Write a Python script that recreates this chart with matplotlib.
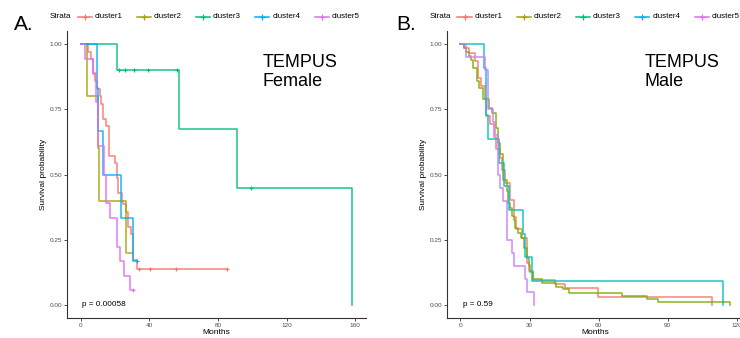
import matplotlib
matplotlib.use("Agg")
import matplotlib.pyplot as plt
from matplotlib.lines import Line2D
import numpy as np

plt.rcParams['font.family'] = ['Liberation Sans', 'DejaVu Sans']

W, H = 740, 338

# ---------------------------------------------------------------
# Data (Kaplan-Meier steps: time, survival)
# ---------------------------------------------------------------
clusters = ["cluster1", "cluster2", "cluster3", "cluster4", "cluster5"]

# Panel A - Female
a_c1_t = [0, 4.6, 6.0, 7.0, 7.5, 8.5, 9.5, 11.4, 11.8, 13.3, 14.9, 16.3, 20.1,
          21.0, 22.0, 24.0, 25.0, 26.5, 27.9, 29.2, 30.8, 32.7, 85.3]
a_c1_s = [1, 0.971, 0.943, 0.914, 0.886, 0.857, 0.829, 0.800, 0.771, 0.714,
          0.686, 0.571, 0.543, 0.486, 0.429, 0.400, 0.386, 0.357, 0.300, 0.271,
          0.171, 0.139, 0.139]
a_c1_cens = [34.2, 40.5, 55.4, 85.3]

a_c2_t = [0, 4.0, 10.0, 11.0, 26.3, 30.8]
a_c2_s = [1, 0.8, 0.6, 0.4, 0.2, 0.2]
a_c2_cens = []

a_c3_t = [0, 21.5, 57.4, 91.3, 158.4]
a_c3_s = [1, 0.9, 0.675, 0.45, 0]
a_c3_cens = [22.2, 26.0, 31.2, 39.5, 56.0, 99.5]

a_c4_t = [0, 9.5, 10.4, 13.3, 23.4, 30.4, 33.0]
a_c4_s = [1, 0.833, 0.667, 0.5, 0.333, 0.167, 0.167]
a_c4_cens = [33.0]

a_c5_t = [0, 2.3, 7.0, 8.9, 10.4, 13.8, 15.0, 17.2, 21.1, 23.0, 25.4, 28.8, 30.8]
a_c5_s = [1, 0.944, 0.889, 0.778, 0.611, 0.5, 0.389, 0.333, 0.222, 0.167,
          0.111, 0.056, 0.056]
a_c5_cens = [30.8]

# Panel B - Male (cluster3 has no curve here)
b_c1_t = [0, 1.6, 3.6, 6.2, 7.7, 9.1, 10.6, 11.0, 13.0, 14.5, 15.3, 17.1, 18.1,
          19.3, 21.4, 23.2, 24.0, 26.8, 28.7, 29.8, 31.6, 41.0, 45.4, 59.8, 109.1]
b_c1_s = [1, 0.984, 0.967, 0.935, 0.871, 0.839, 0.790, 0.726, 0.694, 0.645,
          0.597, 0.565, 0.516, 0.468, 0.403, 0.339, 0.290, 0.258, 0.161, 0.129,
          0.097, 0.081, 0.065, 0.032, 0]

b_c2_t = [0, 1.6, 2.6, 3.6, 4.5, 5.5, 7.0, 8.0, 9.8, 12.3, 13.7, 15.3, 16.3,
          17.1, 18.3, 20.0, 20.7, 21.4, 22.2, 23.2, 23.9, 25.0, 26.5, 27.5,
          28.7, 29.8, 30.4, 31.6, 35.2, 41.7, 44.6, 47.1, 70.0, 80.9, 85.9, 117.0]
b_c2_s = [1, 0.985, 0.97, 0.955, 0.94, 0.91, 0.86, 0.83, 0.79, 0.755, 0.735,
          0.68, 0.62, 0.58, 0.48, 0.435, 0.39, 0.37, 0.34, 0.325, 0.295, 0.275,
          0.255, 0.22, 0.18, 0.155, 0.125, 0.10, 0.083, 0.07, 0.06, 0.047,
          0.035, 0.024, 0.012, 0]

b_c4_t = [0, 10.3, 11.3, 12.0, 16.8, 19.0, 21.1, 27.2, 28.0, 30.9, 113.9]
b_c4_s = [1, 0.909, 0.727, 0.636, 0.545, 0.455, 0.364, 0.273, 0.182, 0.091, 0]

b_c5_t = [0, 2.3, 10.6, 12.0, 14.2, 14.9, 16.1, 17.1, 18.5, 20.0, 22.2, 23.2,
          28.0, 29.1, 32.0]
b_c5_s = [1, 0.95, 0.90, 0.75, 0.70, 0.65, 0.50, 0.45, 0.40, 0.25, 0.20, 0.15,
          0.10, 0.05, 0]

y_ticks = [0, 0.25, 0.5, 0.75, 1.0]
y_labels = ["0.00", "0.25", "0.50", "0.75", "1.00"]
a_x_ticks = [0, 40, 80, 120, 160]
b_x_ticks = [0, 30, 60, 90, 120]

hue5 = ["#F8766D", "#A3A500", "#00BF7D", "#00B0F6", "#E76BF3"]
hue4 = ["#F8766D", "#7CAE00", "#00BFC4", "#C77CFF"]


def fx(px):
    return px / W


def fy(py):
    return 1 - py / H


def style_axes(ax, xticks, xmax):
    ax.set_xlim(-0.05 * xmax, 1.05 * xmax)
    ax.set_ylim(-0.05, 1.05)
    for s in ("top", "right"):
        ax.spines[s].set_visible(False)
    for s in ("left", "bottom"):
        ax.spines[s].set_color("#333333")
        ax.spines[s].set_linewidth(0.8)
    ax.set_xticks(xticks)
    ax.set_yticks(y_ticks)
    ax.set_yticklabels(y_labels)
    ax.tick_params(length=2, width=0.6, color="#333333", labelsize=4.6,
                   labelcolor="#4D4D4D", pad=1.5)
    ax.set_xlabel("Months", fontsize=6, labelpad=1)
    ax.set_ylabel("Survival probability", fontsize=6, labelpad=2)
    ax.set_facecolor("white")


def draw_curve(ax, t, s, color, cens=()):
    ax.step(t, s, where="post", color=color, lw=1.1, alpha=0.9)
    if len(cens):
        idx = np.searchsorted(t, cens, side="right") - 1
        ax.plot(cens, np.array(s)[idx], ls="none", marker="+", ms=3.5,
                mew=0.8, color=color)


def draw_legend(fig, ax_left_px):
    fig.text(fx(ax_left_px - 17), fy(17), "Strata", fontsize=5.8, va="center")
    for i, name in enumerate(clusters):
        x0 = ax_left_px + 10.5 + i * 59.3
        fig.add_artist(Line2D([fx(x0), fx(x0 + 14)], [fy(17), fy(17)],
                              color=hue5[i], lw=1.1, transform=fig.transFigure))
        fig.add_artist(Line2D([fx(x0 + 7)], [fy(17)], marker="+", ms=4,
                              mew=0.9, color=hue5[i], transform=fig.transFigure))
        fig.text(fx(x0 + 17), fy(17), name, fontsize=5.8, va="center")


fig = plt.figure(figsize=(W / 100, H / 100), dpi=100)

# Panel A
axA = fig.add_axes([fx(67), fy(318), (366 - 67) / W, (318 - 31) / H])
a_curves = [(a_c1_t, a_c1_s, a_c1_cens), (a_c2_t, a_c2_s, a_c2_cens),
            (a_c3_t, a_c3_s, a_c3_cens), (a_c4_t, a_c4_s, a_c4_cens),
            (a_c5_t, a_c5_s, a_c5_cens)]
for i, (t, s, c) in enumerate(a_curves):
    draw_curve(axA, t, s, hue5[i], c)
style_axes(axA, a_x_ticks, max(a_c3_t))
axA.text(1, 0, "p = 0.00058", fontsize=5.9, va="center", ha="left")
fig.text(fx(263), fy(54), "TEMPUS\nFemale", fontsize=13, va="top",
         linespacing=1.12)
fig.text(fx(14), fy(24), "A.", fontsize=15, va="center")
draw_legend(fig, 67)

# Panel B
axB = fig.add_axes([fx(447), fy(318), (743.3 - 447) / W, (318 - 31) / H])
b_curves = [(b_c1_t, b_c1_s), (b_c2_t, b_c2_s), (b_c4_t, b_c4_s),
            (b_c5_t, b_c5_s)]
for i, (t, s) in enumerate(b_curves):
    draw_curve(axB, t, s, hue4[i])
style_axes(axB, b_x_ticks, max(b_c2_t))
axB.text(1, 0, "p = 0.59", fontsize=5.9, va="center", ha="left")
fig.text(fx(645), fy(54), "TEMPUS\nMale", fontsize=13, va="top",
         linespacing=1.12)
fig.text(fx(396), fy(24), "B.", fontsize=15, va="center")
draw_legend(fig, 447)

fig.savefig("out.png", dpi=100, facecolor="white")
